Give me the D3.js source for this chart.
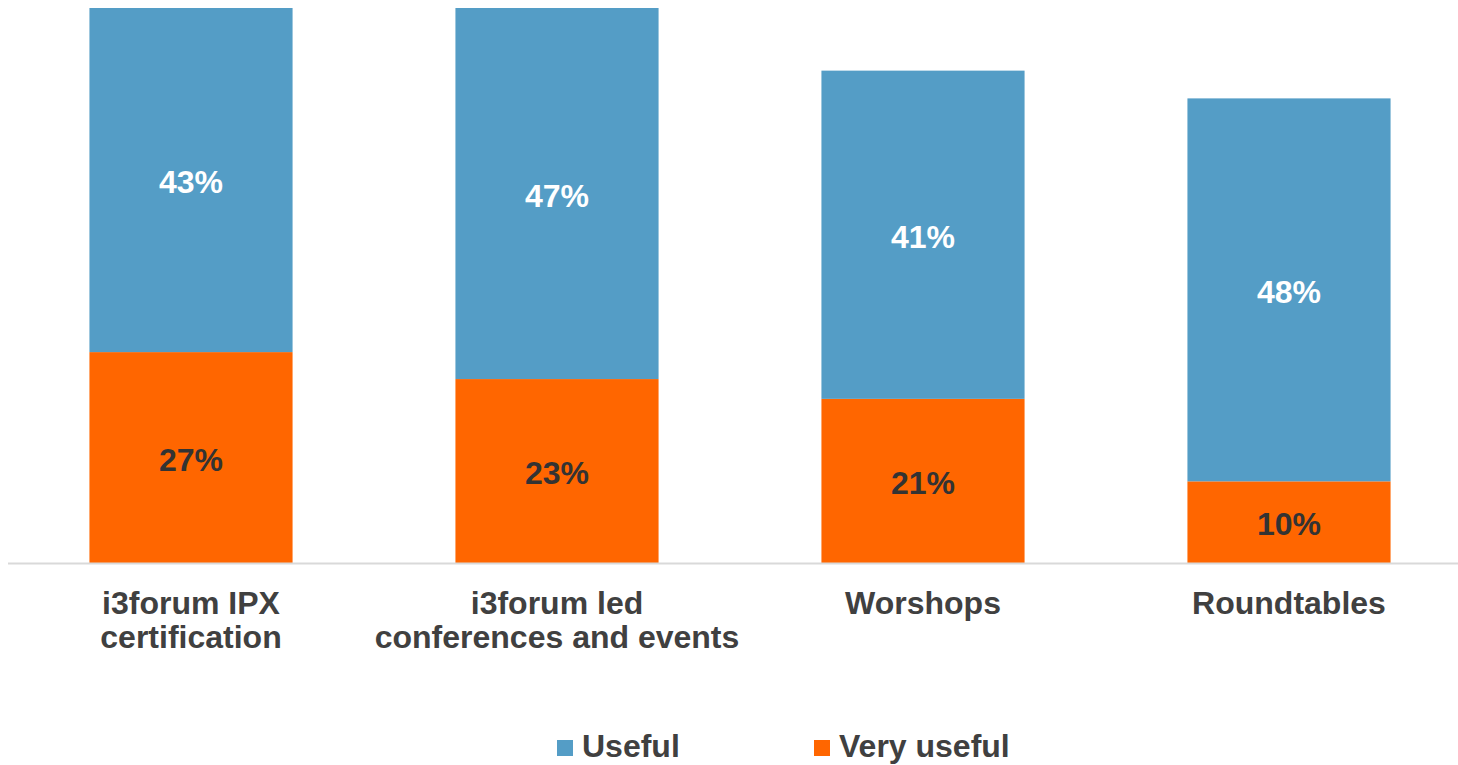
<!DOCTYPE html>
<html>
<head>
<meta charset="utf-8">
<script src="https://cdn.jsdelivr.net/npm/d3@7"></script>
<style>
  body { margin: 0; background: #fff; }
  text { font-family: "Liberation Sans", Arial, sans-serif; font-weight: bold; }
</style>
</head>
<body>
<svg id="chart"></svg>
<script>
// data (percent)
var categories = [["i3forum IPX", "certification"], ["i3forum led", "conferences and events"], ["Worshops"], ["Roundtables"]];
var veryUseful = [26.6, 23.2, 20.7, 10.3];
var useful = [43.4, 46.8, 41.4, 48.3];
var seriesNames = ["Useful", "Very useful"];
var colors = ["#549dc6", "#ff6600"];

var width = 1458, height = 765;
var baseY = 563, topY = 8;

var svg = d3.select('#chart')
    .attr('width', width)
    .attr('height', height);

var keys = categories.map(function(c){ return c.join(' '); });

var x = d3.scaleBand()
    .domain(keys)
    .range([8, 1472])
    .paddingInner(0.445)
    .paddingOuter(0.2225);

var y = d3.scaleLinear()
    .domain([0, 70])
    .range([baseY, topY]);

var rows = keys.map(function(k, i){
    return {key: k, vu: veryUseful[i], u: useful[i]};
});

// orange bottom segment
svg.selectAll('rect.vu')
    .data(rows)
    .enter()
    .append('rect')
    .attr('class', 'vu')
    .attr('x', function(d){ return x(d.key); })
    .attr('width', x.bandwidth())
    .attr('y', function(d){ return y(d.vu); })
    .attr('height', function(d){ return baseY - y(d.vu); })
    .style('fill', colors[1]);

// blue top segment
svg.selectAll('rect.u')
    .data(rows)
    .enter()
    .append('rect')
    .attr('class', 'u')
    .attr('x', function(d){ return x(d.key); })
    .attr('width', x.bandwidth())
    .attr('y', function(d){ return y(d.vu + d.u); })
    .attr('height', function(d){ return y(d.vu) - y(d.vu + d.u); })
    .style('fill', colors[0]);

// axis line
svg.append('line')
    .attr('x1', 8)
    .attr('x2', 1458)
    .attr('y1', baseY + 0.5)
    .attr('y2', baseY + 0.5)
    .style('stroke', '#d9d9d9')
    .style('stroke-width', 2);

// value labels
svg.selectAll('text.lvu')
    .data(rows)
    .enter()
    .append('text')
    .attr('class', 'lvu')
    .attr('x', function(d){ return x(d.key) + x.bandwidth()/2; })
    .attr('y', function(d){ return (baseY + y(d.vu))/2 + 13; })
    .attr('text-anchor', 'middle')
    .style('font-size', '32px')
    .style('fill', '#333333')
    .text(function(d){ return Math.round(d.vu) + '%'; });

svg.selectAll('text.lu')
    .data(rows)
    .enter()
    .append('text')
    .attr('class', 'lu')
    .attr('x', function(d){ return x(d.key) + x.bandwidth()/2; })
    .attr('y', function(d){ return (y(d.vu) + y(d.vu + d.u))/2 + 13; })
    .attr('text-anchor', 'middle')
    .style('font-size', '32px')
    .style('fill', '#ffffff')
    .text(function(d){ return Math.round(d.u) + '%'; });

// category labels
var cat = svg.selectAll('text.cat')
    .data(categories)
    .enter()
    .append('text')
    .attr('class', 'cat')
    .attr('text-anchor', 'middle')
    .style('font-size', '32px')
    .style('fill', '#404040');

cat.selectAll('tspan')
    .data(function(d, i){ return d.map(function(line){ return {line: line, key: keys[i]}; }); })
    .enter()
    .append('tspan')
    .attr('x', function(d){ return x(d.key) + x.bandwidth()/2; })
    .attr('y', function(d, j){ return 614 + j*34; })
    .text(function(d){ return d.line; });

// legend (kept just inside the bottom edge)
var legendX = [557, 814];
var legend = svg.selectAll('g.legend')
    .data(seriesNames)
    .enter()
    .append('g')
    .attr('class', 'legend')
    .attr('transform', function(d, i){ return 'translate(' + legendX[i] + ',740)'; });

legend.append('rect')
    .attr('width', 16)
    .attr('height', 16)
    .style('fill', function(d, i){ return colors[i]; });

legend.append('text')
    .attr('x', 25)
    .attr('y', 17)
    .style('font-size', '32px')
    .style('fill', '#404040')
    .text(function(d){ return d; });
</script>
</body>
</html>
